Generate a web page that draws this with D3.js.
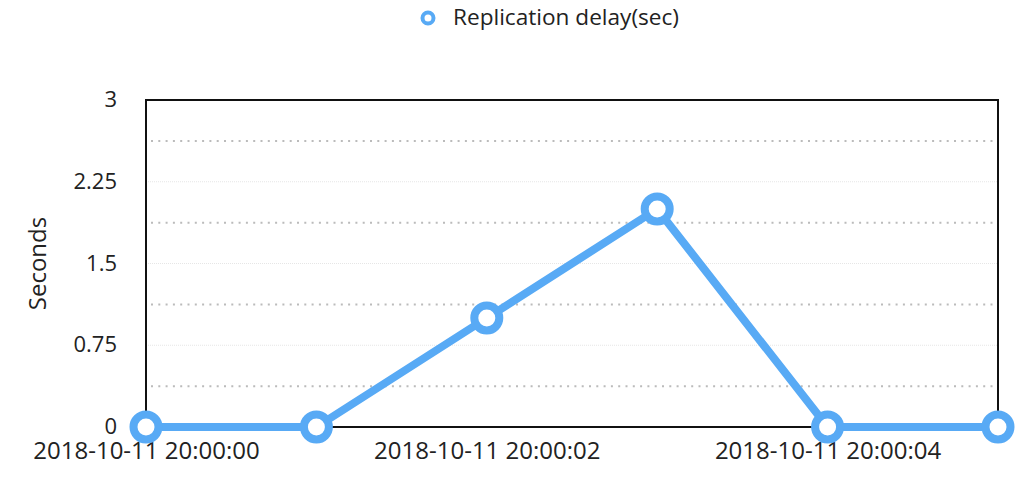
<!DOCTYPE html>
<html><head><meta charset="utf-8">
<script src="https://cdn.jsdelivr.net/npm/d3@7"></script>
<style>
body{margin:0;background:#fff;}
text{font-family:"Open Sans","Noto Sans",sans-serif;fill:#222;}
</style></head>
<body><svg id="c" width="1024" height="482"></svg>
<script>
const times = ["2018-10-11 20:00:00","2018-10-11 20:00:01","2018-10-11 20:00:02","2018-10-11 20:00:03","2018-10-11 20:00:04","2018-10-11 20:00:05"];
const delay = [0,0,1,2,0,0];
const yTicks = [0,0.75,1.5,2.25,3];
const yMinor = [0.375,1.125,1.875,2.625];
const xTickLabels = ["2018-10-11 20:00:00","2018-10-11 20:00:02","2018-10-11 20:00:04"];
const seriesName = "Replication delay(sec)";
const yTitle = "Seconds";

const color = "#58aaf5";
const FONT = '"Open Sans","Noto Sans",sans-serif';
const svg = d3.select("#c");
const L=146,R=998,T=100,B=427;
const parse = d3.timeParse("%Y-%m-%d %H:%M:%S");
const x = d3.scaleTime().domain([parse(times[0]),parse(times[times.length-1])]).range([L,R]);
const y = d3.scaleLinear().domain([0,3]).range([B,T]);

// major grid (faint)
svg.append("g").selectAll("line").data(yTicks.slice(1,-1)).join("line")
  .attr("x1",L).attr("x2",R).attr("y1",d=>y(d)).attr("y2",d=>y(d))
  .attr("stroke","#e6e6e6").attr("stroke-width",1).attr("stroke-dasharray","1,1");
// minor grid dotted
svg.append("g").selectAll("line").data(yMinor).join("line")
  .attr("x1",L+5).attr("x2",R-5).attr("y1",d=>y(d)).attr("y2",d=>y(d))
  .attr("stroke","#bbb").attr("stroke-width",2).attr("stroke-dasharray","2,5.3");

// frame
svg.append("rect").attr("x",L).attr("y",T).attr("width",R-L).attr("height",B-T)
  .attr("fill","none").attr("stroke","#111").attr("stroke-width",2);

// y axis
const yAxis = svg.append("g").attr("transform",`translate(${L},0)`)
  .call(d3.axisLeft(y).tickValues(yTicks).tickSize(0).tickPadding(29).tickFormat(d=>String(d)));
yAxis.select(".domain").remove();
yAxis.selectAll("text").style("font-size","22px").attr("fill","#222").style("font-family",FONT).attr("dy","0.3em");

// x axis
const xAxis = svg.append("g").attr("transform",`translate(0,${B})`)
  .call(d3.axisBottom(x).tickValues(xTickLabels.map(parse)).tickSize(0).tickPadding(15)
    .tickFormat(d3.timeFormat("%Y-%m-%d %H:%M:%S")));
xAxis.select(".domain").remove();
xAxis.selectAll("text").style("font-size","24px").attr("fill","#222").style("font-family",FONT);

// y title
svg.append("text").attr("transform",`translate(46,${(T+B)/2}) rotate(-90)`)
  .attr("text-anchor","middle").style("font-size","24px").text(yTitle);

// line
const pts = times.map((t,i)=>({t:parse(t),v:delay[i]}));
svg.append("path").datum(pts).attr("fill","none").attr("stroke",color).attr("stroke-width",8)
  .attr("stroke-linejoin","round")
  .attr("d",d3.line().x(d=>x(d.t)).y(d=>y(d.v)));
svg.append("g").selectAll("circle").data(pts).join("circle")
  .attr("cx",d=>x(d.t)).attr("cy",d=>y(d.v)).attr("r",12.5)
  .attr("fill","#fff").attr("stroke",color).attr("stroke-width",8);

// legend
svg.append("circle").attr("cx",428).attr("cy",18).attr("r",5.5).attr("fill","#fff")
  .attr("stroke",color).attr("stroke-width",4);
svg.append("text").attr("x",453).attr("y",25).style("font-size","22.6px").text(seriesName);
</script></body></html>
